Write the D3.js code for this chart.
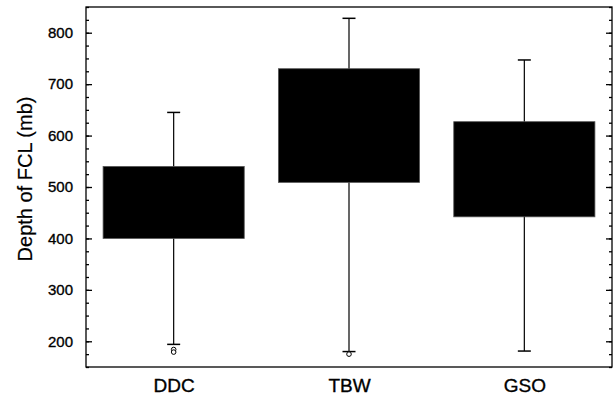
<!DOCTYPE html>
<html>
<head>
<meta charset="utf-8">
<script src="https://cdn.jsdelivr.net/npm/d3@7"></script>
<style>
  body { margin: 0; background: #fff; }
  text { font-family: "Liberation Sans", Arial, sans-serif; fill: #000; }
</style>
</head>
<body>
<div id="container"></div>
<script>
// data
var categories = ["DDC", "TBW", "GSO"];
var q1 = [400, 509, 442];          // box bottoms
var q3 = [540, 730, 627];          // box tops
var whiskerLow = [194, 180, 181];
var whiskerHigh = [645, 828, 747];
var outliers = [[184, 179], [175], []];
var yMajorTicks = [200, 300, 400, 500, 600, 700, 800];
var yMinorTicks = d3.range(150, 851, 25);

var gWidth = 615, gHeight = 400;
var mLeft = 86, mRight = 612, mTop = 7, mBottom = 367;

var svg = d3.select("#container").append("svg")
  .attr("width", gWidth)
  .attr("height", gHeight);

var y = d3.scaleLinear().domain([150, 850]).range([mBottom, mTop]);
var x = d3.scalePoint().domain(categories).range([mLeft, mRight]).padding(0.5);
var boxW = x.step() * 0.805;
var capW = 13;

var rows = categories.map(function(c, i) {
  return { cat: c, q1: q1[i], q3: q3[i], lo: whiskerLow[i], hi: whiskerHigh[i], out: outliers[i] };
});

// whiskers
svg.selectAll(".whisker").data(rows).enter().append("line")
  .attr("class", "whisker")
  .attr("x1", function(d) { return x(d.cat); })
  .attr("x2", function(d) { return x(d.cat); })
  .attr("y1", function(d) { return y(d.lo); })
  .attr("y2", function(d) { return y(d.hi); })
  .style("stroke", "#000").style("stroke-width", 1.2);

// caps
["lo", "hi"].forEach(function(k) {
  svg.selectAll(".cap-" + k).data(rows).enter().append("line")
    .attr("class", "cap-" + k)
    .attr("x1", function(d) { return x(d.cat) - capW / 2; })
    .attr("x2", function(d) { return x(d.cat) + capW / 2; })
    .attr("y1", function(d) { return y(d[k]); })
    .attr("y2", function(d) { return y(d[k]); })
    .style("stroke", "#000").style("stroke-width", 1.5);
});

// boxes
svg.selectAll(".box").data(rows).enter().append("rect")
  .attr("class", "box")
  .attr("x", function(d) { return x(d.cat) - boxW / 2; })
  .attr("y", function(d) { return y(d.q3); })
  .attr("width", boxW)
  .attr("height", function(d) { return y(d.q1) - y(d.q3); })
  .style("fill", "#000")
  .style("stroke", "#555").style("stroke-width", 0.8);

// outliers
var outPts = [];
rows.forEach(function(d) { d.out.forEach(function(v) { outPts.push({ cat: d.cat, v: v }); }); });
svg.selectAll(".outlier").data(outPts).enter().append("circle")
  .attr("class", "outlier")
  .attr("cx", function(d) { return x(d.cat); })
  .attr("cy", function(d) { return y(d.v); })
  .attr("r", 2.3)
  .style("fill", "#fff").style("stroke", "#000").style("stroke-width", 1);

// frame
svg.append("rect")
  .attr("x", mLeft).attr("y", mTop)
  .attr("width", mRight - mLeft).attr("height", mBottom - mTop)
  .style("fill", "none").style("stroke", "#000").style("stroke-width", 1.3);

// left axis, inward ticks
var gl = svg.append("g").attr("transform", "translate(" + mLeft + ",0)");
gl.call(d3.axisLeft(y).tickValues(yMinorTicks).tickSize(-3).tickFormat(""));
gl.append("g").call(d3.axisLeft(y).tickValues(yMajorTicks).tickSize(-6).tickPadding(13));
gl.selectAll(".domain").remove();
gl.selectAll("line").style("stroke", "#000").style("stroke-width", 1.3);
gl.selectAll("text").style("font-size", "15px").style("fill", "#000")
  .style("stroke", "#000").style("stroke-width", 0.35);

// right axis, inward ticks
var gr = svg.append("g").attr("transform", "translate(" + mRight + ",0)");
gr.call(d3.axisRight(y).tickValues(yMinorTicks).tickSize(-3).tickFormat(""));
gr.append("g").call(d3.axisRight(y).tickValues(yMajorTicks).tickSize(-6).tickFormat(""));
gr.selectAll(".domain").remove();
gr.selectAll("line").style("stroke", "#000").style("stroke-width", 1.3);

// category labels
var gb = svg.append("g").attr("transform", "translate(0," + mBottom + ")");
gb.call(d3.axisBottom(x).tickSize(0).tickPadding(12));
gb.select(".domain").remove();
gb.selectAll("text").style("font-size", "19px").style("fill", "#000")
  .style("stroke", "#000").style("stroke-width", 0.35);

// y title
svg.append("text")
  .attr("transform", "translate(32,179) rotate(-90)")
  .attr("text-anchor", "middle")
  .style("font-size", "20px")
  .style("stroke", "#000").style("stroke-width", 0.2)
  .text("Depth of FCL (mb)");
</script>
</body>
</html>
